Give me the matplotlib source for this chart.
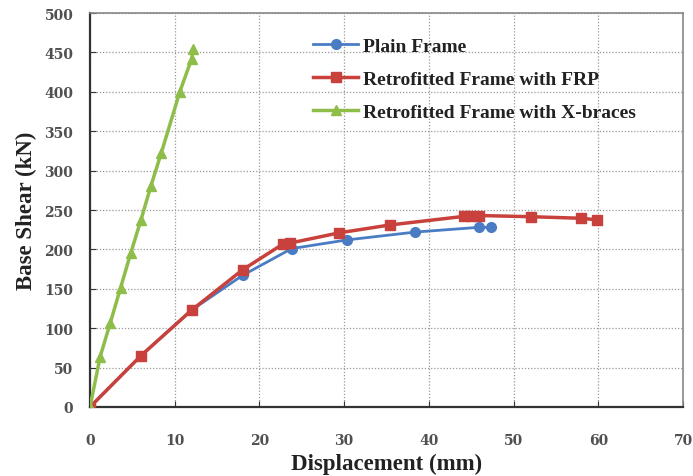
import matplotlib
matplotlib.use("Agg")
import matplotlib.pyplot as plt

plain_x = [0, 6, 12, 18, 23.8, 30.3, 38.4, 45.9, 47.3]
plain_y = [0, 65, 123, 167, 201, 212, 222, 228, 228]

frp_x = [0, 6, 12, 18, 22.8, 23.6, 29.4, 35.4, 44.2, 45.0, 45.9, 52, 58, 59.9]
frp_y = [0, 65, 123, 174, 207, 208, 221, 231, 242, 243, 243, 241.5, 239.5, 237.5]

xb_x = [0, 1.2, 2.4, 3.6, 4.8, 6.0, 7.2, 8.4, 10.6, 12.0, 12.2]
xb_y = [0, 64, 107, 151, 195, 237, 281, 322, 400, 442, 454]

labels = ["Plain Frame", "Retrofitted Frame with FRP", "Retrofitted Frame with X-braces"]
xticks = list(range(0, 71, 10))
yticks = list(range(0, 501, 50))

fig = plt.figure(figsize=(6.93, 4.77), dpi=100)
ax = fig.add_axes([0.1299, 0.1447, 0.8557, 0.8259])

ax.plot(plain_x, plain_y, color="#4a7cc4", lw=2, marker="o", ms=7, label=labels[0], zorder=3)
ax.plot(frp_x, frp_y, color="#c8413c", lw=2.5, marker="s", ms=7.5, label=labels[1], zorder=4)
ax.plot(xb_x, xb_y, color="#8fbd4a", lw=2.5, marker="^", ms=7.5, label=labels[2], zorder=5)

ax.set_xlim(0, 70)
ax.set_ylim(0, 500)
ax.set_xticks(xticks)
ax.set_yticks(yticks)
ax.grid(True, color="#999999", linestyle=(0, (1, 1.5)), lw=0.9)
ax.set_axisbelow(True)

for s in ["left", "bottom"]:
    ax.spines[s].set_color("#333333")
    ax.spines[s].set_linewidth(1.6)
for s in ["top", "right"]:
    ax.spines[s].set_color("#888888")
    ax.spines[s].set_linewidth(1.2)

tickfont = dict(family="DejaVu Serif", weight="bold", size=10)
ax.set_xticklabels([str(t) for t in xticks], color="#505050", **tickfont)
ax.set_yticklabels([str(t) for t in yticks], color="#505050", **tickfont)
ax.tick_params(axis="x", direction="in", length=4, pad=19, color="#333333")
ax.tick_params(axis="y", direction="in", length=4, pad=12, color="#333333")

ax.set_xlabel("Displacement (mm)", family="Liberation Serif", weight="bold", size=16.5, labelpad=4, color="#222222")
ax.set_ylabel("Base Shear (kN)", family="Liberation Serif", weight="bold", size=16.5, labelpad=5, color="#222222")

leg = ax.legend(loc="upper left", bbox_to_anchor=(0.357, 0.967), frameon=False,
                prop=dict(family="Liberation Serif", weight="bold", size=14),
                handlelength=2.3, labelspacing=0.78, handletextpad=0.25, borderaxespad=0.2)
for t in leg.get_texts():
    t.set_color("#222222")

fig.savefig("out.png", dpi=100)
